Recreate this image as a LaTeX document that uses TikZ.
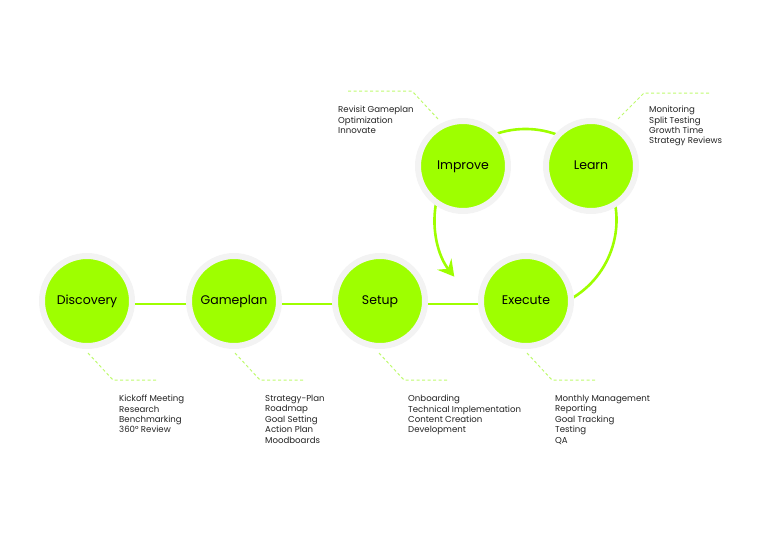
\documentclass[tikz,border=0pt]{standalone}
\usepackage{fontspec}
\setmainfont{Poppins}
\usetikzlibrary{arrows.meta,backgrounds}
\definecolor{lime}{RGB}{158,255,0}
\definecolor{halo}{RGB}{243,243,243}
\definecolor{leader}{RGB}{190,250,110}
\definecolor{txt}{RGB}{35,35,35}
\begin{document}
\begin{tikzpicture}[x=1pt,y=-1pt,
  stage/.style={circle, fill=lime, draw=halo, line width=6pt, minimum size=90pt, inner sep=0pt, text height=9pt, text depth=3pt, font=\fontsize{12.5}{14}\selectfont, text=black},
  flow/.style={draw=lime, line width=2.6pt},
  lead/.style={draw=leader, line width=1pt, dash pattern=on 3pt off 2.5pt},
  info/.style={anchor=north west, align=left, inner sep=0pt, font=\fontsize{8.6}{10.4}\selectfont, text=txt}]
\useasboundingbox (0,0) rectangle (768,543);
\node[stage] (disc) at (87,301) {Discovery};
\node[stage] (game) at (234,301) {Gameplan};
\node[stage] (setup) at (380,301) {Setup};
\node[stage] (exec) at (526,301) {Execute};
\node[stage] (impr) at (463,166) {Improve};
\node[stage] (learn) at (591,166) {Learn};
\coordinate (loop) at (525.5,220);
\begin{scope}[on background layer]
\draw[flow] ([yshift=-3pt]disc.center) -- ([yshift=-3pt]game.center) -- ([yshift=-3pt]setup.center) -- ([yshift=-3pt]exec.center);
\draw[flow, -{Stealth[length=16pt,width=18pt,inset=6pt]}] ([shift={(-70:91pt)}]loop) arc[start angle=-70, end angle=218.5, radius=91pt];
\end{scope}
% leaders
\draw[lead] (disc.center) ++(1,52) -- ++(25,27) -- ++(44,0);
\draw[lead] (game.center) ++(1,52) -- ++(25,27) -- ++(44,0);
\draw[lead] (setup.center) ++(-1,52) -- ++(25,27) -- ++(44,0);
\draw[lead] (exec.center) ++(1,52) -- ++(25,27) -- ++(44,0);
\draw[lead] (impr.center) ++(-25,-47) -- ++(-26,-28) -- ++(-65,0);
\draw[lead] (learn.center) ++(27,-47) -- ++(26,-26) -- ++(66,0);
% texts
\node[info] (tdisc) at (119,395) {Kickoff Meeting\\Research\\Benchmarking\\360° Review};
\node[info] (tgame) at (265,395) {Strategy-Plan\\Roadmap\\Goal Setting\\Action Plan\\Moodboards};
\node[info] (tsetup) at (408,395) {Onboarding\\Technical Implementation\\Content Creation\\Development};
\node[info] (texec) at (555,395) {Monthly Management\\Reporting\\Goal Tracking\\Testing\\QA};
\node[info] (timpr) at (338,106) {Revisit Gameplan\\Optimization\\Innovate};
\node[info] (tlearn) at (649,106) {Monitoring\\Split Testing\\Growth Time\\Strategy Reviews};
\end{tikzpicture}
\end{document}
